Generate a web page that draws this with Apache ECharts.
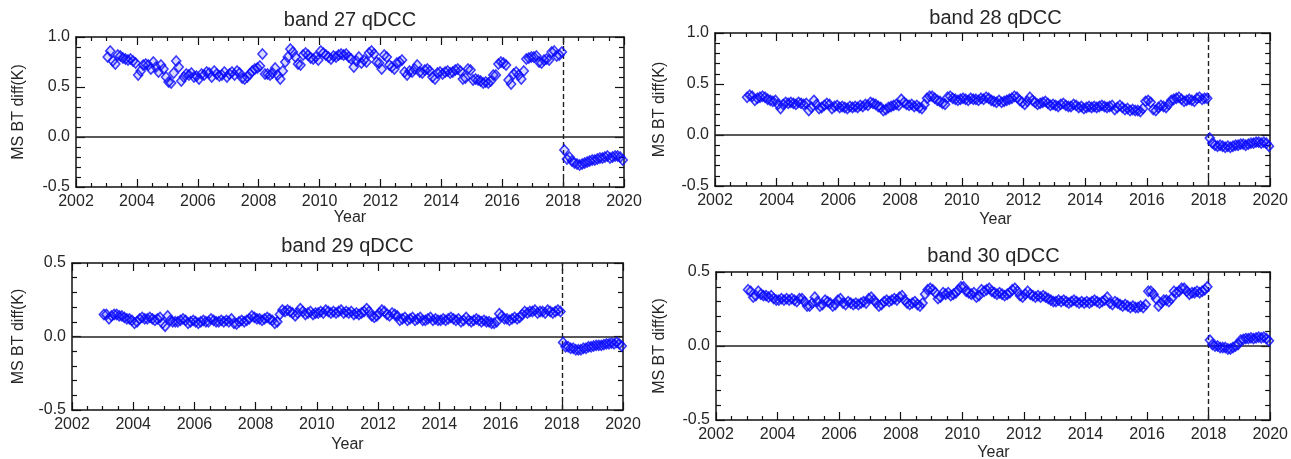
<!DOCTYPE html>
<html><head><meta charset="utf-8">
<script src="https://cdn.jsdelivr.net/npm/echarts@6/dist/echarts.min.js"></script>
<style>html,body{margin:0;padding:0;background:#fff}#c{width:1291px;height:459px}</style>
</head><body><div id="c"></div>
<script>
// ---------------- DATA ----------------
const startYear = 2003;           // first monthly sample (Jan 2003)
const breakYear = 2018;           // dashed vertical line
const xTickLabels = [2002, 2004, 2006, 2008, 2010, 2012, 2014, 2016, 2018, 2020];
const titles = ['band 27 qDCC', 'band 28 qDCC', 'band 29 qDCC', 'band 30 qDCC'];
const yName = 'MS BT diff(K)';
const xName = 'Year';

// monthly MS BT diff values, Jan 2003 .. Dec 2019 (one row per year)
const band27 = [
  0.80, 0.86, 0.76, 0.73, 0.82, 0.81, 0.79, 0.78, 0.77, 0.78, 0.76, 0.74,
  0.62, 0.66, 0.72, 0.73, 0.72, 0.68, 0.75, 0.70, 0.65, 0.72, 0.68, 0.60,
  0.55, 0.54, 0.64, 0.76, 0.70, 0.56, 0.60, 0.63, 0.62, 0.64, 0.60, 0.61,
  0.58, 0.63, 0.62, 0.65, 0.64, 0.60, 0.66, 0.63, 0.61, 0.62, 0.65, 0.60,
  0.63, 0.65, 0.62, 0.66, 0.64, 0.59, 0.58, 0.60, 0.63, 0.66, 0.68, 0.69,
  0.71, 0.83, 0.63, 0.63, 0.62, 0.64, 0.69, 0.62, 0.58, 0.66, 0.75, 0.80,
  0.88, 0.85, 0.80, 0.73, 0.72, 0.82, 0.84, 0.82, 0.79, 0.78, 0.80, 0.77,
  0.86, 0.84, 0.82, 0.80, 0.78, 0.81, 0.80, 0.82, 0.83, 0.82, 0.83, 0.80,
  0.78, 0.70, 0.76, 0.80, 0.74, 0.77, 0.75, 0.84, 0.86, 0.83, 0.75, 0.74,
  0.68, 0.82, 0.80, 0.72, 0.70, 0.68, 0.74, 0.75, 0.77, 0.65, 0.62, 0.66,
  0.65, 0.68, 0.72, 0.65, 0.64, 0.67, 0.68, 0.66, 0.60, 0.58, 0.64, 0.65,
  0.63, 0.65, 0.66, 0.64, 0.65, 0.67, 0.68, 0.66, 0.58, 0.59, 0.68, 0.67,
  0.57, 0.58, 0.57, 0.56, 0.54, 0.55, 0.54, 0.56, 0.62, 0.62, 0.73, 0.75,
  0.74, 0.72, 0.57, 0.53, 0.63, 0.65, 0.62, 0.58, 0.66, 0.78, 0.79, 0.80,
  0.80, 0.81, 0.75, 0.74, 0.77, 0.78, 0.77, 0.85, 0.86, 0.81, 0.82, 0.85,
  -0.13, -0.22, -0.20, -0.24, -0.26, -0.27, -0.28, -0.27, -0.26, -0.25, -0.24, -0.23,
  -0.23, -0.22, -0.21, -0.21, -0.20, -0.19, -0.21, -0.20, -0.19, -0.19, -0.20, -0.23
];
const band28 = [
  0.37, 0.39, 0.38, 0.34, 0.36, 0.37, 0.38, 0.37, 0.35, 0.34, 0.33, 0.34,
  0.30, 0.26, 0.30, 0.32, 0.31, 0.32, 0.31, 0.30, 0.32, 0.31, 0.30, 0.31,
  0.24, 0.27, 0.34, 0.30, 0.26, 0.27, 0.29, 0.31, 0.30, 0.26, 0.28, 0.29,
  0.27, 0.28, 0.27, 0.26, 0.28, 0.27, 0.28, 0.27, 0.29, 0.28, 0.30, 0.29,
  0.32, 0.31, 0.30, 0.28, 0.27, 0.24, 0.25, 0.27, 0.28, 0.29, 0.30, 0.29,
  0.35, 0.32, 0.30, 0.29, 0.30, 0.28, 0.29, 0.27, 0.26, 0.30, 0.36, 0.38,
  0.38, 0.36, 0.34, 0.33, 0.31, 0.30, 0.37, 0.38, 0.36, 0.35, 0.34, 0.35,
  0.36, 0.35, 0.34, 0.36, 0.35, 0.35, 0.34, 0.36, 0.35, 0.37, 0.36, 0.34,
  0.33, 0.32, 0.34, 0.32, 0.33, 0.34, 0.35, 0.36, 0.38, 0.37, 0.34, 0.32,
  0.30, 0.33, 0.37, 0.34, 0.32, 0.30, 0.31, 0.32, 0.33, 0.31, 0.29, 0.30,
  0.29, 0.28, 0.30, 0.31, 0.29, 0.28, 0.28, 0.30, 0.29, 0.27, 0.28, 0.26,
  0.27, 0.28, 0.27, 0.28, 0.27, 0.28, 0.29, 0.28, 0.27, 0.28, 0.29, 0.25,
  0.27, 0.29, 0.27, 0.25, 0.26, 0.24, 0.25, 0.24, 0.24, 0.23, 0.26, 0.33,
  0.34, 0.32, 0.25, 0.24, 0.27, 0.29, 0.28, 0.27, 0.30, 0.34, 0.35, 0.36,
  0.37, 0.35, 0.33, 0.34, 0.35, 0.34, 0.33, 0.36, 0.37, 0.35, 0.36, 0.36,
  -0.03, -0.08, -0.10, -0.11, -0.10, -0.11, -0.12, -0.11, -0.12, -0.11, -0.10, -0.10,
  -0.09, -0.09, -0.10, -0.09, -0.08, -0.08, -0.07, -0.07, -0.08, -0.07, -0.08, -0.11
];
const band29 = [
  0.15, 0.15, 0.12, 0.14, 0.15, 0.15, 0.14, 0.14, 0.13, 0.12, 0.12, 0.11,
  0.09, 0.10, 0.12, 0.13, 0.12, 0.12, 0.13, 0.12, 0.11, 0.12, 0.13, 0.09,
  0.07, 0.14, 0.11, 0.10, 0.10, 0.10, 0.11, 0.12, 0.11, 0.09, 0.10, 0.11,
  0.10, 0.09, 0.10, 0.11, 0.10, 0.10, 0.12, 0.11, 0.10, 0.10, 0.11, 0.10,
  0.11, 0.10, 0.12, 0.09, 0.085, 0.10, 0.11, 0.10, 0.11, 0.12, 0.14, 0.13,
  0.12, 0.12, 0.11, 0.12, 0.13, 0.12, 0.11, 0.09, 0.10, 0.15, 0.18, 0.17,
  0.18, 0.17, 0.16, 0.14, 0.16, 0.19, 0.17, 0.15, 0.16, 0.17, 0.15, 0.16,
  0.16, 0.17, 0.16, 0.18, 0.17, 0.16, 0.17, 0.16, 0.17, 0.18, 0.16, 0.17,
  0.16, 0.17, 0.15, 0.16, 0.15, 0.16, 0.17, 0.19, 0.17, 0.14, 0.13, 0.14,
  0.16, 0.18, 0.17, 0.15, 0.14, 0.16, 0.15, 0.14, 0.11, 0.12, 0.13, 0.11,
  0.12, 0.13, 0.11, 0.12, 0.13, 0.11, 0.11, 0.12, 0.13, 0.11, 0.12, 0.11,
  0.11, 0.12, 0.11, 0.12, 0.13, 0.12, 0.11, 0.12, 0.10, 0.11, 0.13, 0.11,
  0.10, 0.11, 0.12, 0.11, 0.10, 0.11, 0.10, 0.10, 0.09, 0.09, 0.10, 0.155,
  0.14, 0.12, 0.12, 0.11, 0.12, 0.13, 0.12, 0.13, 0.15, 0.17, 0.16, 0.17,
  0.17, 0.18, 0.16, 0.17, 0.17, 0.16, 0.18, 0.17, 0.16, 0.17, 0.18, 0.17,
  -0.04, -0.07, -0.07, -0.08, -0.08, -0.09, -0.09, -0.09, -0.08, -0.08, -0.07, -0.07,
  -0.065, -0.06, -0.06, -0.06, -0.055, -0.05, -0.05, -0.045, -0.05, -0.04, -0.05, -0.065
];
const band30 = [
  0.38, 0.37, 0.33, 0.34, 0.37, 0.35, 0.34, 0.34, 0.33, 0.34, 0.32, 0.31,
  0.31, 0.32, 0.31, 0.32, 0.31, 0.32, 0.31, 0.30, 0.32, 0.32, 0.30, 0.27,
  0.27, 0.29, 0.33, 0.30, 0.27, 0.28, 0.31, 0.30, 0.29, 0.27, 0.28, 0.31,
  0.32, 0.29, 0.28, 0.30, 0.29, 0.28, 0.29, 0.28, 0.29, 0.30, 0.29, 0.32,
  0.33, 0.31, 0.29, 0.27, 0.28, 0.30, 0.31, 0.30, 0.31, 0.32, 0.31, 0.33,
  0.34, 0.31, 0.29, 0.28, 0.29, 0.30, 0.28, 0.27, 0.29, 0.35, 0.38, 0.39,
  0.38, 0.36, 0.32, 0.33, 0.36, 0.35, 0.36, 0.34, 0.35, 0.36, 0.38, 0.40,
  0.40, 0.37, 0.36, 0.35, 0.36, 0.33, 0.34, 0.38, 0.37, 0.38, 0.39, 0.37,
  0.36, 0.35, 0.36, 0.35, 0.34, 0.35, 0.36, 0.38, 0.39, 0.37, 0.34, 0.33,
  0.35, 0.37, 0.35, 0.34, 0.33, 0.34, 0.33, 0.34, 0.33, 0.32, 0.31, 0.30,
  0.30, 0.31, 0.30, 0.31, 0.30, 0.29, 0.30, 0.31, 0.30, 0.29, 0.30, 0.29,
  0.30, 0.29, 0.30, 0.31, 0.30, 0.29, 0.30, 0.31, 0.33, 0.29, 0.28, 0.30,
  0.29, 0.28, 0.27, 0.28, 0.27, 0.26, 0.27, 0.26, 0.26, 0.27, 0.26, 0.28,
  0.37, 0.37, 0.35, 0.32, 0.27, 0.29, 0.31, 0.31, 0.30, 0.32, 0.37, 0.36,
  0.37, 0.39, 0.39, 0.37, 0.35, 0.36, 0.36, 0.37, 0.36, 0.37, 0.38, 0.40,
  0.04, 0.01, 0.00, 0.00, -0.01, -0.01, -0.01, -0.02, -0.02, -0.01, 0.00, 0.01,
  0.04, 0.045, 0.05, 0.05, 0.055, 0.05, 0.055, 0.06, 0.055, 0.06, 0.05, 0.035
];
const bands = [band27, band28, band29, band30];
const yMaxes = [1.0, 1.0, 0.5, 0.5];
const yMin = -0.5;

// ---------------- LAYOUT / STYLE ----------------
const FONT = "'Liberation Sans', Arial, Helvetica, sans-serif";
const TXT = '#262626';
const grids = [
  {left: 76,  top: 37,  width: 548, height: 150},
  {left: 715, top: 33,  width: 561, height: 153},
  {left: 72,  top: 263, width: 551, height: 147},
  {left: 716, top: 272, width: 555, height: 148}
];
const titleY = [20, 18, 246, 256];
const yearY = [218, 220, 445, 453];

const axisLine = {show: true, onZero: false, lineStyle: {color: '#111', width: 1.5}};
const xAxes = [], yAxes = [], series = [], graphics = [];

grids.forEach((g, i) => {
  ['bottom', 'top'].forEach(pos => {
    xAxes.push({
      gridIndex: i, type: 'value', position: pos, min: 2002, max: 2020, interval: 2,
      axisLine, splitLine: {show: false},
      axisTick: {show: true, inside: true, length: 8, lineStyle: {color: '#111', width: 1.2}},
      minorTick: {show: true, splitNumber: 4, length: 4, lineStyle: {color: '#111', width: 1.2}},
      axisLabel: {show: pos === 'bottom', margin: 7, color: TXT, fontSize: 16, fontFamily: FONT,
        formatter: v => (xTickLabels.indexOf(v) >= 0 ? String(v) : '')}
    });
  });
  ['left', 'right'].forEach(pos => {
    yAxes.push({
      gridIndex: i, type: 'value', position: pos, min: yMin, max: yMaxes[i], interval: 0.5,
      axisLine, splitLine: {show: false},
      axisTick: {show: true, inside: true, length: 9, lineStyle: {color: '#111', width: 1.2}},
      minorTick: {show: true, splitNumber: 5, length: 5, lineStyle: {color: '#111', width: 1.2}},
      axisLabel: {show: pos === 'left', margin: 6, color: TXT, fontSize: 16, fontFamily: FONT,
        formatter: v => v.toFixed(1)}
    });
  });
  const pts = bands[i].map((v, k) => [startYear + (k + 0.5) / 12, v]);
  series.push({
    type: 'scatter', xAxisIndex: 2 * i, yAxisIndex: 2 * i, data: pts,
    symbol: 'diamond', symbolSize: [9, 10], silent: true, z: 5,
    itemStyle: {color: 'rgba(0,0,255,0.18)', borderColor: '#0a0aff', borderWidth: 1.6},
    markLine: {
      silent: true, symbol: ['none', 'none'], label: {show: false}, z: 3,
      data: [
        {yAxis: 0, lineStyle: {type: 'solid', color: '#222', width: 1.6}},
        {xAxis: breakYear, lineStyle: {type: [5, 3], color: '#222', width: 1.4}}
      ]
    }
  });
  const cx = g.left + g.width / 2;
  graphics.push({type: 'text', x: cx, y: titleY[i], style: {text: titles[i], fill: TXT,
    font: '20px ' + FONT, textAlign: 'center', textVerticalAlign: 'middle'}});
  graphics.push({type: 'text', x: cx, y: yearY[i], style: {text: xName, fill: TXT,
    font: '16px ' + FONT, textAlign: 'center', textVerticalAlign: 'middle'}});
  graphics.push({type: 'text', x: (i % 2 ? 660 : 19), y: g.top + g.height / 2, rotation: Math.PI / 2,
    style: {text: yName, fill: TXT, font: '16px ' + FONT, textAlign: 'center', textVerticalAlign: 'middle'}});
});

const chart = echarts.init(document.getElementById('c'), null, {renderer: 'canvas'});
chart.setOption({
  backgroundColor: '#fff', animation: false,
  grid: grids, xAxis: xAxes, yAxis: yAxes, series, graphic: graphics
});
</script></body></html>
